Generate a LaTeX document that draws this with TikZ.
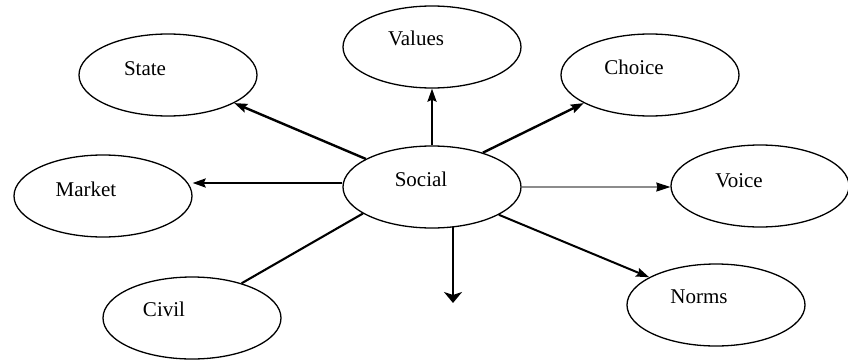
\documentclass[tikz,border=0pt]{standalone}
\usepackage{fontspec}
\setmainfont{Liberation Serif}
\usetikzlibrary{shapes.geometric,arrows.meta}

\tikzset{
  oval/.style={ellipse, draw=black, line width=1.3pt, minimum width=178pt,
    minimum height=82pt, inner sep=0pt},
  lbl/.style={anchor=base, inner sep=0pt, font=\fontsize{21}{24}\selectfont},
  link/.style={draw=black, line width=2.4pt,
    -{Stealth[length=13pt,width=9pt,inset=2pt]}},
  plainlink/.style={draw=black, line width=2.1pt},
  greylink/.style={draw=black!45, line width=1.6pt,
    -{Stealth[length=14pt,width=9pt,inset=1pt,color=black]}},
  droplink/.style={draw=black, line width=2.6pt,
    -{Stealth[length=11pt,width=18pt,inset=3pt]}}
}

\begin{document}
\begin{tikzpicture}[x=1pt,y=-1pt]
  \useasboundingbox (0,0) rectangle (848,359);

  % ovals
  \node[oval] (social) at (432,187) {};
  \node[oval] (values) at (432,47)  {};
  \node[oval] (state)  at (168,75)  {};
  \node[oval] (choice) at (650,75)  {};
  \node[oval] (market) at (103,196) {};
  \node[oval] (voice)  at (760,186) {};
  \node[oval] (norms)  at (716,305) {};
  \node[oval] (civil)  at (192,318) {};

  % labels, set slightly left of each oval's centre
  \node[lbl] (social-t) at (421,186) {Social};
  \node[lbl] (values-t) at (416,45)  {Values};
  \node[lbl] (state-t)  at (145,75)  {State};
  \node[lbl] (choice-t) at (634,74)  {Choice};
  \node[lbl] (market-t) at (86,196)  {Market};
  \node[lbl] (voice-t)  at (739,187) {Voice};
  \node[lbl] (norms-t)  at (699,303) {Norms};
  \node[lbl] (civil-t)  at (164,316) {Civil};

  % connectors
  \draw[link] (social) -- (values);
  \draw[link] (social) -- (state);
  \draw[link] (social.34) -- (choice.203);
  \draw[link] ([yshift=4pt]social.west) -- ([yshift=4pt]social.west -| market.east);
  \draw[greylink] (social.east) -- (social.east -| voice.west);
  \draw[link, line width=2pt] (social) -- (norms);
  \draw[plainlink] (civil.35) -- (social.201);

  \coordinate (droptip) at (453,303);
  \draw[droplink] ([yshift=2pt]droptip |- social.south) -- (droptip);
\end{tikzpicture}
\end{document}
